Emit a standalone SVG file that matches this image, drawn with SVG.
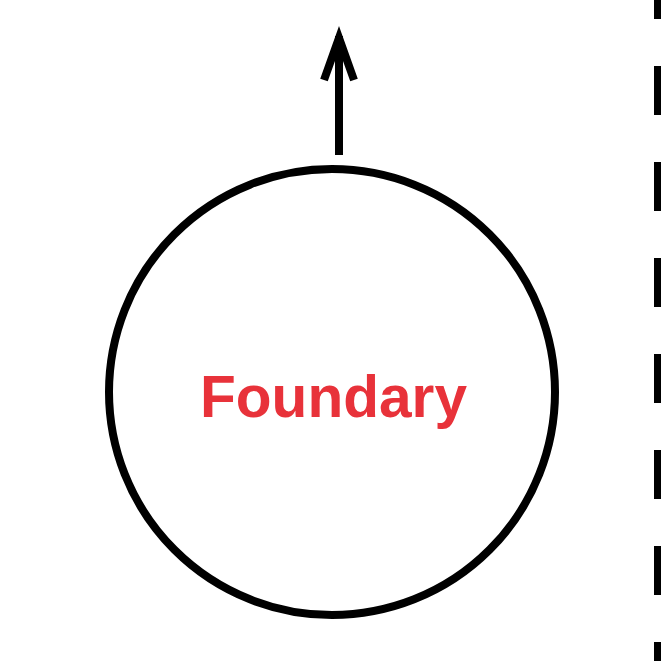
<svg xmlns="http://www.w3.org/2000/svg" width="661" height="661" viewBox="0 0 661 661">
  <style>
    .ln { fill: none; stroke: #000; stroke-width: 8; }
    .lbl { font-family: "Liberation Sans", Arial, sans-serif; font-weight: bold; font-size: 60px; fill: #e8323a; }
  </style>
  <rect width="661" height="661" fill="#fff"/>
  <g id="connectors">
    <line class="ln" x1="339" y1="155" x2="339" y2="36"/>
    <polyline class="ln" points="324,80 339,38 354,80" stroke-linejoin="miter"/>
    <line class="ln" x1="658" y1="-30" x2="658" y2="661" stroke-dasharray="49 47"/>
  </g>
  <g id="foundary">
    <circle class="ln" cx="332" cy="392" r="223"/>
    <text class="lbl" x="333.5" y="417" text-anchor="middle" textLength="267" lengthAdjust="spacingAndGlyphs">Foundary</text>
  </g>
</svg>
